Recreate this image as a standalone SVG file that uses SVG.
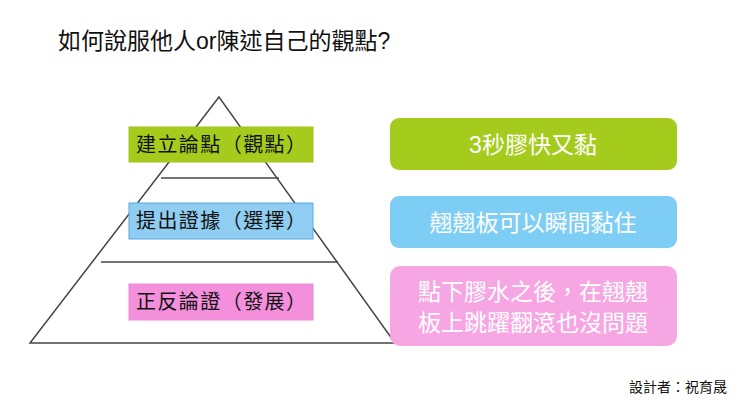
<svg xmlns="http://www.w3.org/2000/svg" width="740" height="416" viewBox="0 0 740 416">
<style>
text{font-family:"Liberation Sans","Noto Sans CJK TC",sans-serif}
.lab{font-family:"Noto Sans CJK TC",sans-serif;font-size:20px;fill:#111}
.rt{font-size:23px;fill:#fff}
.ln{stroke:#444;stroke-width:1.5;fill:none}
</style>
<rect width="740" height="416" fill="#fff"/>
<text x="58" y="49" font-size="23" fill="#111">如何說服他人or陳述自己的觀點?</text>
<g id="pyramid">
<path class="ln" d="M219 97 L30 343 L395 343 Z"/>
<line class="ln" x1="161" y1="178" x2="279" y2="178"/>
<line class="ln" x1="101" y1="262" x2="338" y2="262"/>
</g>
<g id="n1"><rect x="129" y="127" width="184" height="35" fill="#a5cc1c" stroke="#9fc41a"/><text class="lab" x="136" y="152" textLength="170" lengthAdjust="spacing">建立論點（觀點）</text></g>
<g id="n2"><rect x="129" y="203" width="184" height="36" fill="#8fcdf2" stroke="#5aa7e0"/><text class="lab" x="136" y="228" textLength="170" lengthAdjust="spacing">提出證據（選擇）</text></g>
<g id="n3"><rect x="129" y="284" width="184" height="36" fill="#f48fdc" stroke="#ee8ad6"/><text class="lab" x="136" y="309" textLength="170" lengthAdjust="spacing">正反論證（發展）</text></g>
<g id="r1"><rect x="390" y="118" width="287" height="52" rx="9" fill="#a5cc1c"/><text class="rt" x="533" y="153" text-anchor="middle">3秒膠快又黏</text></g>
<g id="r2"><rect x="390" y="196" width="287" height="52" rx="9" fill="#7ecdf4"/><text class="rt" x="533" y="231" text-anchor="middle">翹翹板可以瞬間黏住</text></g>
<g id="r3"><rect x="390" y="266" width="287" height="80" rx="10" fill="#f7a6e4"/><text class="rt" x="533" y="300" text-anchor="middle">點下膠水之後，在翹翹</text><text class="rt" x="533" y="331" text-anchor="middle">板上跳躍翻滾也沒問題</text></g>
<g id="connectors"></g>
<text x="727" y="392" font-size="14" fill="#111" text-anchor="end">設計者：祝育晟</text>
</svg>
